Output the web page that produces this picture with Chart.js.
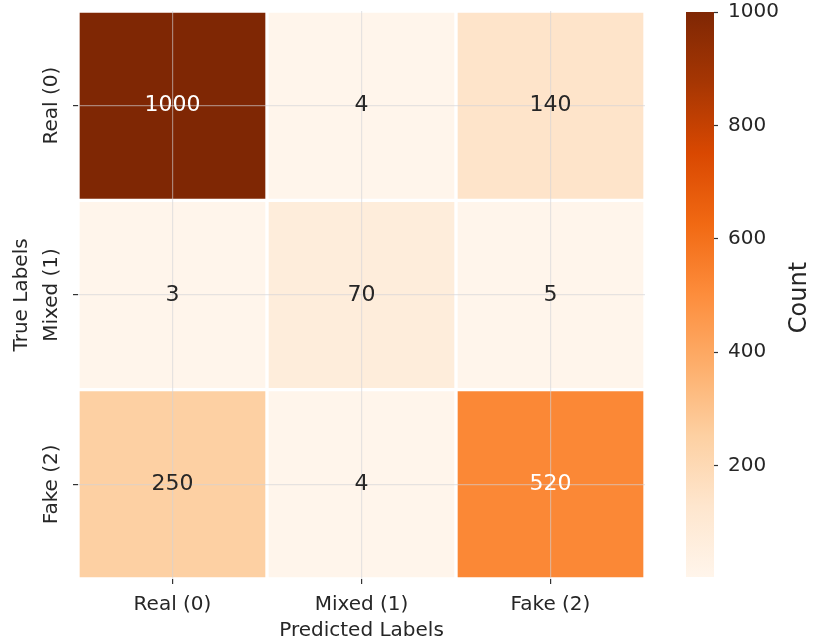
<!DOCTYPE html>
<html>
<head>
<meta charset="utf-8">
<title>Confusion Matrix</title>
<script src="https://cdn.jsdelivr.net/npm/chart.js@4/dist/chart.umd.min.js"></script>
<style>
  html, body { margin: 0; padding: 0; background: #ffffff; }
  #wrap { position: relative; width: 814px; height: 644px; overflow: hidden; }
  #matrix { position: absolute; left: 0; top: 0; }
  #cbar { position: absolute; left: 0; top: -10px; }
</style>
</head>
<body>
<div id="wrap">
  <canvas id="matrix" width="814" height="644"></canvas>
  <canvas id="cbar" width="814" height="654"></canvas>
</div>
<script>
// Class labels (columns = predicted, rows = true)
const predictedLabels = ['Real (0)', 'Mixed (1)', 'Fake (2)'];
const trueLabels = ['Real (0)', 'Mixed (1)', 'Fake (2)'];

// Counts, one array per true class
const realRow = [1000, 4, 140];
const mixedRow = [3, 70, 5];
const fakeRow = [250, 4, 520];

// Colorbar tick values
const colorbarTicks = [200, 400, 600, 800, 1000];

const rows = [realRow, mixedRow, fakeRow];
const allValues = rows.flat();
const vmin = Math.min(...allValues);
const vmax = Math.max(...allValues);

// "Oranges" sequential colormap anchors
const ORANGES = [
  [255, 245, 235], [254, 230, 206], [253, 208, 162], [253, 174, 107],
  [253, 141, 60], [241, 105, 19], [217, 72, 1], [166, 54, 3], [127, 39, 4]
];

function orangesAt(t) {
  t = Math.min(1, Math.max(0, t));
  const p = t * (ORANGES.length - 1);
  const i = Math.min(Math.floor(p), ORANGES.length - 2);
  const f = p - i;
  const a = ORANGES[i], b = ORANGES[i + 1];
  return [0, 1, 2].map(k => a[k] + (b[k] - a[k]) * f);
}
const rgbStr = c => `rgb(${c.map(Math.round).join(',')})`;
const norm = v => (v - vmin) / (vmax - vmin);

function luminance(c) {
  const l = c.map(v => {
    v /= 255;
    return v <= 0.03928 ? v / 12.92 : Math.pow((v + 0.055) / 1.055, 2.4);
  });
  return 0.2126 * l[0] + 0.7152 * l[1] + 0.0722 * l[2];
}

const FONT = 'DejaVu Sans';
const TEXT = '#262626';
const GRID = 'rgba(210,210,215,0.55)';
Chart.defaults.font.family = FONT;
Chart.defaults.color = TEXT;

// Cell annotations + rotated row labels
const matrixText = {
  id: 'matrixText',
  afterDraw(chart) {
    const ctx = chart.ctx;
    ctx.save();
    ctx.textAlign = 'center';
    ctx.textBaseline = 'middle';
    ctx.font = `22px "${FONT}"`;
    rows.forEach((row, i) => {
      chart.getDatasetMeta(i).data.forEach((bar, j) => {
        const p = bar.getProps(['x', 'y', 'base'], true);
        const lum = luminance(orangesAt(norm(row[j])));
        ctx.fillStyle = lum > 0.408 ? TEXT : '#ffffff';
        ctx.fillText(String(row[j]), p.x, (p.y + p.base) / 2);
      });
    });
    const ys = chart.scales.y;
    ctx.font = `20px "${FONT}"`;
    ctx.fillStyle = TEXT;
    trueLabels.forEach((lab, i) => {
      ctx.save();
      ctx.translate(ys.right - 26.5, ys.getPixelForValue(i));
      ctx.rotate(-Math.PI / 2);
      ctx.fillText(lab, 0, 0);
      ctx.restore();
    });
    ctx.restore();
  }
};

new Chart(document.getElementById('matrix'), {
  type: 'bar',
  data: {
    labels: predictedLabels,
    datasets: rows.map((row, i) => ({
      label: trueLabels[i],
      data: predictedLabels.map(() => [i - 0.5, i + 0.5]),
      backgroundColor: row.map(v => rgbStr(orangesAt(norm(v)))),
      borderColor: '#ffffff',
      borderWidth: 2,
      borderSkipped: false,
      grouped: false,
      barPercentage: 1,
      categoryPercentage: 1
    }))
  },
  options: {
    responsive: false,
    animation: false,
    events: [],
    layout: { padding: { top: 11, right: 169, bottom: 1, left: 0 } },
    plugins: { legend: { display: false }, tooltip: { enabled: false } },
    scales: {
      x: {
        type: 'category',
        offset: true,
        grid: { offset: false, color: GRID, lineWidth: 1.2, z: 1,
                drawTicks: true, tickLength: 5, tickColor: '#333333', tickWidth: 1.2 },
        border: { display: false },
        ticks: { font: { size: 20 }, color: TEXT, padding: 9 },
        title: { display: true, text: 'Predicted Labels', font: { size: 20 }, color: TEXT,
                 padding: { top: -7, bottom: 0 } }
      },
      y: {
        type: 'linear',
        position: 'left',
        reverse: true,
        min: -0.5,
        max: 2.5,
        afterBuildTicks: s => { s.ticks = trueLabels.map((_, i) => ({ value: i })); },
        grid: { color: GRID, lineWidth: 1.2, z: 1,
                drawTicks: true, tickLength: 5, tickColor: '#333333', tickWidth: 1.2 },
        border: { display: false },
        ticks: { display: false },
        title: { display: true, text: 'True Labels', font: { size: 20 }, color: TEXT,
                 padding: { top: 10, bottom: 39 } }
      }
    }
  },
  plugins: [matrixText]
});

// Colorbar
const cbarLabel = {
  id: 'cbarLabel',
  afterDraw(chart) {
    const ctx = chart.ctx;
    const area = chart.chartArea;
    ctx.save();
    ctx.font = `24px "${FONT}"`;
    ctx.fillStyle = TEXT;
    ctx.textAlign = 'center';
    ctx.textBaseline = 'middle';
    ctx.translate(area.right + 86, (area.top + area.bottom) / 2 + 3);
    ctx.rotate(-Math.PI / 2);
    ctx.fillText('Count', 0, 0);
    ctx.restore();
  }
};

new Chart(document.getElementById('cbar'), {
  type: 'bar',
  data: {
    labels: [''],
    datasets: [{
      data: [[vmin, vmax]],
      backgroundColor: (c) => {
        const chart = c.chart;
        const ys = chart.scales.y;
        if (!chart.chartArea || !ys) return rgbStr(ORANGES[4]);
        const g = chart.ctx.createLinearGradient(0, ys.getPixelForValue(vmin), 0, ys.getPixelForValue(vmax));
        ORANGES.forEach((col, k) => g.addColorStop(k / (ORANGES.length - 1), rgbStr(col)));
        return g;
      },
      borderWidth: 0,
      barPercentage: 1,
      categoryPercentage: 1
    }]
  },
  options: {
    responsive: false,
    animation: false,
    events: [],
    layout: { padding: { top: 20, right: 35, bottom: 67, left: 686 } },
    plugins: { legend: { display: false }, tooltip: { enabled: false } },
    scales: {
      x: { display: false },
      y: {
        position: 'right',
        min: vmin,
        max: vmax,
        afterBuildTicks: s => { s.ticks = colorbarTicks.map(v => ({ value: v })); },
        afterFit: s => { s.width = 65; },
        grid: { drawOnChartArea: false, drawTicks: true, tickLength: 4,
                tickColor: '#333333', tickWidth: 1.2 },
        border: { display: false },
        ticks: { font: { size: 20 }, color: TEXT, padding: 10, callback: v => String(v) }
      }
    }
  },
  plugins: [cbarLabel]
});
</script>
</body>
</html>
